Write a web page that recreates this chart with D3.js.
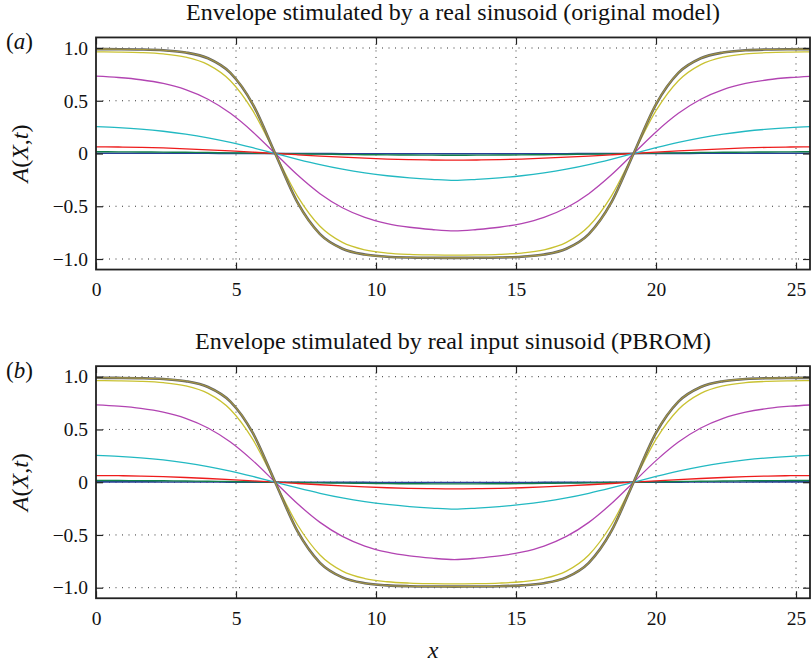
<!DOCTYPE html>
<meta charset="utf-8">
<script src="https://d3js.org/d3.v7.min.js"></script>
<style>
  body { margin: 0; background: #fff; }
  text { font-family: "Liberation Serif", "Times New Roman", serif; fill: #111; }
</style>
<div id="my_dataviz"></div>
<script>

// sample positions along x (every 0.8)
var xs = [0, 0.8, 1.6, 2.4, 3.2, 4, 4.8, 5.6, 6.4, 7.2, 8, 8.8, 9.6, 10.4, 11.2, 12, 12.8,
          13.6, 14.4, 15.2, 16, 16.8, 17.6, 18.4, 19.2, 20, 20.8, 21.6, 22.4, 23.2, 24, 24.8, 25.6];

// tick values / labels
var xTicks = [0, 5, 10, 15, 20, 25];
var yTicks = [-1, -0.5, 0, 0.5, 1];
var yTickLabels = ["\u22121.0", "\u22120.5", "0", "0.5", "1.0"];

// envelope A(X,t) at successive times
var blue = [0.003, 0.0029, 0.0028, 0.0025, 0.0021, 0.0017, 0.0011, 0.0006, 0,
  -0.0006, -0.0011, -0.0017, -0.0021, -0.0025, -0.0028, -0.0029, -0.003,
  -0.0029, -0.0028, -0.0025, -0.0021, -0.0017, -0.0011, -0.0006, 0,
  0.0006, 0.0011, 0.0017, 0.0021, 0.0025, 0.0028, 0.0029, 0.003];
var green = [0.016, 0.0157, 0.0148, 0.0133, 0.0113, 0.0089, 0.0061, 0.0031, 0,
  -0.0031, -0.0061, -0.0089, -0.0113, -0.0133, -0.0148, -0.0157, -0.016,
  -0.0157, -0.0148, -0.0133, -0.0113, -0.0089, -0.0061, -0.0031, 0,
  0.0031, 0.0061, 0.0089, 0.0113, 0.0133, 0.0148, 0.0157, 0.016];
var red = [0.063, 0.0618, 0.0582, 0.0524, 0.0445, 0.035, 0.0241, 0.0123, 0,
  -0.0123, -0.0241, -0.035, -0.0445, -0.0524, -0.0582, -0.0618, -0.063,
  -0.0618, -0.0582, -0.0524, -0.0445, -0.035, -0.0241, -0.0123, 0,
  0.0123, 0.0241, 0.035, 0.0445, 0.0524, 0.0582, 0.0618, 0.063];
var cyan = [0.255, 0.245, 0.2307, 0.2107, 0.1837, 0.1486, 0.1051, 0.0546, 0,
  -0.0546, -0.1051, -0.1486, -0.1837, -0.2107, -0.2307, -0.245, -0.255,
  -0.245, -0.2307, -0.2107, -0.1837, -0.1486, -0.1051, -0.0546, 0,
  0.0546, 0.1051, 0.1486, 0.1837, 0.2107, 0.2307, 0.245, 0.255];
var magenta = [0.733, 0.7203, 0.6992, 0.6636, 0.6053, 0.514, 0.3807, 0.2045, 0,
  -0.2045, -0.3807, -0.514, -0.6053, -0.6636, -0.6992, -0.7203, -0.733,
  -0.7203, -0.6992, -0.6636, -0.6053, -0.514, -0.3807, -0.2045, 0,
  0.2045, 0.3807, 0.514, 0.6053, 0.6636, 0.6992, 0.7203, 0.733];
var yellow = [0.9636, 0.9613, 0.9561, 0.9434, 0.913, 0.8422, 0.6894, 0.4056, 0,
  -0.4056, -0.6894, -0.8422, -0.913, -0.9434, -0.9561, -0.9613, -0.9636,
  -0.9613, -0.9561, -0.9434, -0.913, -0.8422, -0.6894, -0.4056, 0,
  0.4056, 0.6894, 0.8422, 0.913, 0.9434, 0.9561, 0.9613, 0.9636];
var black = [0.9894, 0.9885, 0.9858, 0.9782, 0.9575, 0.9023, 0.7639, 0.4667, 0,
  -0.4667, -0.7639, -0.9023, -0.9575, -0.9782, -0.9858, -0.9885, -0.9894,
  -0.9885, -0.9858, -0.9782, -0.9575, -0.9023, -0.7639, -0.4667, 0,
  0.4667, 0.7639, 0.9023, 0.9575, 0.9782, 0.9858, 0.9885, 0.9894];
// later times, saturated on top of each other
var late = [0.9896, 0.9888, 0.9862, 0.9788, 0.9585, 0.9035, 0.7655, 0.4680, 0,
  -0.4680, -0.7655, -0.9035, -0.9585, -0.9788, -0.9862, -0.9888, -0.9896,
  -0.9888, -0.9862, -0.9788, -0.9585, -0.9035, -0.7655, -0.4680, 0,
  0.4680, 0.7655, 0.9035, 0.9585, 0.9788, 0.9862, 0.9888, 0.9896];

var curves = [blue, green, red, cyan, magenta, yellow, black, late];
var curveColors = ["#2a3f9a", "#12804a", "#ee1c1c", "#22b9c2", "#b244b2", "#c9c232", "#666666", "#a5963e"];
var curveWidths = [1.6, 1.4, 1.3, 1.3, 1.3, 1.3, 2.6, 1.1];

var panels = [
  {top: 37.45, tag: "a", title: "Envelope stimulated by a real sinusoid (original model)"},
  {top: 366.15, tag: "b", title: "Envelope stimulated by real input sinusoid (PBROM)"}
];

var W = 811, H = 664;
var left = 96, right = 810, plotH = 232.1;

var svg = d3.select("#my_dataviz")
  .append("svg")
    .attr("width", W)
    .attr("height", H);

var x = d3.scaleLinear()
  .domain([0, 25.5])
  .range([left, right]);

panels.forEach(function(p, k) {
  var y = d3.scaleLinear()
    .domain([-1.1, 1.1])
    .range([p.top + plotH, p.top]);

  var g = svg.append("g");

  // clip
  g.append("clipPath").attr("id", "clip" + k)
    .append("rect")
      .attr("x", left).attr("y", p.top)
      .attr("width", right - left).attr("height", plotH);

  // dotted grid
  g.selectAll(".gx")
    .data(xTicks.filter(function(t) { return t > 0; }))
    .enter().append("line")
      .attr("x1", function(d) { return x(d); })
      .attr("x2", function(d) { return x(d); })
      .attr("y1", p.top)
      .attr("y2", p.top + plotH)
      .attr("stroke", "#333")
      .attr("stroke-width", 1)
      .attr("stroke-dasharray", "1,5.5");
  g.selectAll(".gy")
    .data(yTicks)
    .enter().append("line")
      .attr("x1", left)
      .attr("x2", right)
      .attr("y1", function(d) { return y(d); })
      .attr("y2", function(d) { return y(d); })
      .attr("stroke", "#333")
      .attr("stroke-width", 1)
      .attr("stroke-dasharray", "1,5.5");

  // curves
  var line = d3.line()
    .x(function(d, i) { return x(xs[i]); })
    .y(function(d) { return y(d); })
    .curve(d3.curveMonotoneX);

  g.append("g")
    .attr("clip-path", "url(#clip" + k + ")")
    .selectAll("path")
    .data(curves)
    .enter().append("path")
      .attr("d", line)
      .attr("fill", "none")
      .attr("stroke", function(d, i) { return curveColors[i]; })
      .attr("stroke-width", function(d, i) { return curveWidths[i]; });

  // axes with inward ticks
  var ax = g.append("g")
    .attr("transform", "translate(0," + (p.top + plotH) + ")")
    .call(d3.axisBottom(x).tickValues(xTicks).tickSize(-7).tickPadding(13)
      .tickFormat(function(d) { return d; }));
  var ay = g.append("g")
    .attr("transform", "translate(" + left + ",0)")
    .call(d3.axisLeft(y).tickValues(yTicks).tickSize(-7).tickPadding(8)
      .tickFormat(function(d, i) { return yTickLabels[i]; }));
  var at = g.append("g")
    .attr("transform", "translate(0," + p.top + ")")
    .call(d3.axisTop(x).tickValues(xTicks).tickSize(-7).tickFormat(""));
  var ar = g.append("g")
    .attr("transform", "translate(" + right + ",0)")
    .call(d3.axisRight(y).tickValues(yTicks).tickSize(-7).tickFormat(""));

  [ax, ay, at, ar].forEach(function(a) {
    a.select(".domain").remove();
    a.selectAll(".tick line").attr("stroke", "#222").attr("stroke-width", 1.2);
    a.selectAll("text")
      .style("font-family", "'Liberation Serif', serif")
      .style("font-size", "19.5px")
      .attr("fill", "#111");
  });

  // frame
  g.append("rect")
    .attr("x", left).attr("y", p.top)
    .attr("width", right - left).attr("height", plotH)
    .attr("fill", "none")
    .attr("stroke", "#222")
    .attr("stroke-width", 1.8);

  // title
  g.append("text")
    .attr("x", 453).attr("y", p.top - 17)
    .attr("text-anchor", "middle")
    .style("font-size", "24px")
    .text(p.title);

  // panel tag (a)/(b)
  var tg = g.append("text")
    .attr("x", 6).attr("y", p.top + 12)
    .style("font-size", "23px");
  tg.append("tspan").text("(");
  tg.append("tspan").style("font-style", "italic").text(p.tag);
  tg.append("tspan").text(")");

  // y label
  var yl = g.append("text")
    .attr("transform", "translate(28," + (p.top + plotH / 2) + ")rotate(-90)")
    .attr("text-anchor", "middle")
    .style("font-size", "24px");
  yl.append("tspan").style("font-style", "italic").text("A");
  yl.append("tspan").text("(");
  yl.append("tspan").style("font-style", "italic").text("X");
  yl.append("tspan").text(",");
  yl.append("tspan").style("font-style", "italic").text("t");
  yl.append("tspan").text(")");
});

// x label
svg.append("text")
  .attr("x", 433).attr("y", 658)
  .attr("text-anchor", "middle")
  .style("font-size", "24px")
  .style("font-style", "italic")
  .text("x");

</script>
